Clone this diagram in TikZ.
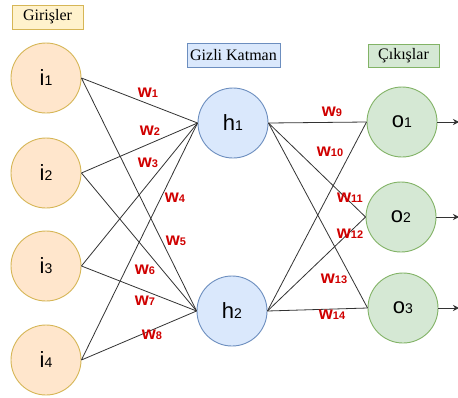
\documentclass[tikz,border=0pt]{standalone}
\usepackage{fontspec}
\setmainfont{Liberation Serif}
\newfontfamily\lsans{Liberation Sans}
\usetikzlibrary{arrows.meta}
\definecolor{infill}{HTML}{FFE6CC}
\definecolor{indraw}{HTML}{D6B656}
\definecolor{hidfill}{HTML}{DAE8FC}
\definecolor{hiddraw}{HTML}{6C8EBF}
\definecolor{outfill}{HTML}{D5E8D4}
\definecolor{outdraw}{HTML}{82B366}
\definecolor{ylwfill}{HTML}{FFF2CC}
\definecolor{wred}{HTML}{D00000}
\definecolor{edgecol}{HTML}{333333}
\newcommand\nlab[2]{{\lsans\fontsize{22}{22}\selectfont #1{\fontsize{14}{14}\selectfont #2}}}
\newcommand\wlab[1]{{\lsans\bfseries\fontsize{18}{18}\selectfont w{\fontsize{11}{11}\selectfont #1}}}
\tikzset{
  neuron/.style={circle, minimum size=70pt, inner sep=0pt, line width=0.9pt},
  innode/.style={neuron, fill=infill, draw=indraw},
  hidnode/.style={neuron, fill=hidfill, draw=hiddraw},
  outnode/.style={neuron, fill=outfill, draw=outdraw},
  titlebox/.style={rectangle, inner sep=0pt, line width=0.9pt, font=\rmfamily\fontsize{16}{16}\selectfont},
  conn/.style={draw=edgecol, line width=0.8pt},
  wl/.style={inner sep=0pt, text=wred},
}
\begin{document}
\begin{tikzpicture}[x=1pt, y=-1pt]
\path[use as bounding box, fill=white] (0,0) rectangle (458,397);
% title boxes
\node[titlebox, fill=ylwfill, draw=indraw, minimum width=71pt, minimum height=24pt] (tin) at (47.5,17) {Girişler};
\node[titlebox, fill=hidfill, draw=hiddraw, minimum width=93pt, minimum height=24pt] (thid) at (233.5,55) {Gizli Katman};
\node[titlebox, fill=outfill, draw=outdraw, minimum width=71pt, minimum height=23pt] (tout) at (403.5,55.5) {Çıkışlar};
% neurons
\node[innode] (i1) at (46,78) {\nlab{i}{1}};
\node[innode] (i2) at (46,173) {\nlab{i}{2}};
\node[innode] (i3) at (46,266) {\nlab{i}{3}};
\node[innode] (i4) at (46,360) {\nlab{i}{4}};
\node[hidnode] (h1) at (233,123) {\nlab{h}{1}};
\node[hidnode] (h2) at (232,311) {\nlab{h}{2}};
\node[outnode] (o1) at (402,122) {\nlab{o}{1}};
\node[outnode] (o2) at (401,217) {\nlab{o}{2}};
\node[outnode] (o3) at (403,308) {\nlab{o}{3}};
% connectors input -> hidden
\foreach \i in {1,2,3,4}{
  \foreach \h in {1,2}{
    \draw[conn] (i\i.east) -- (h\h.west);
  }
}
% connectors hidden -> output
\foreach \h in {1,2}{
  \foreach \o in {1,2,3}{
    \draw[conn] (h\h.east) -- (o\o.west);
  }
}
% output arrows
\coordinate (e1) at (459,122);
\coordinate (e2) at (459,217);
\coordinate (e3) at (459,308);
\foreach \o in {1,2,3}{
  \draw[conn, -{Stealth[length=6pt, width=6pt]}] (o\o.east) -- (e\o);
}
% weight labels
\node[wl] (w1) at (148,93) {\wlab{1}};
\node[wl] (w2) at (150,131) {\wlab{2}};
\node[wl] (w3) at (148,163) {\wlab{3}};
\node[wl] (w4) at (175,198) {\wlab{4}};
\node[wl] (w5) at (176,241) {\wlab{5}};
\node[wl] (w6) at (145,270) {\wlab{6}};
\node[wl] (w7) at (145,301) {\wlab{7}};
\node[wl] (w8) at (152,335) {\wlab{8}};
\node[wl] (w9) at (332,112) {\wlab{9}};
\node[wl] (w10) at (330,152) {\wlab{10}};
\node[wl] (w11) at (350,198) {\wlab{11}};
\node[wl] (w12) at (350,234) {\wlab{12}};
\node[wl] (w13) at (334,279) {\wlab{13}};
\node[wl] (w14) at (332,315) {\wlab{14}};
\end{tikzpicture}
\end{document}
